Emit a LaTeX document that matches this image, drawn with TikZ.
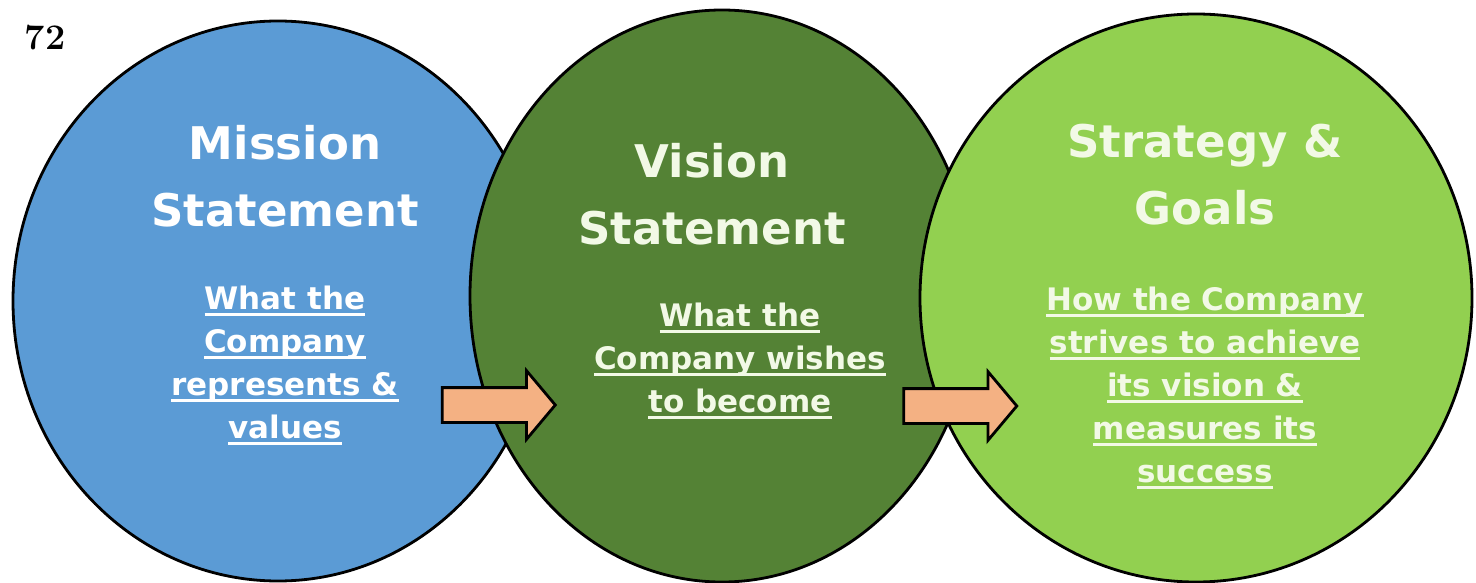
\documentclass[tikz,border=0pt]{standalone}
\usepackage{fontspec}
\newfontfamily\verd{DejaVu Sans}
\usetikzlibrary{shapes.geometric,shapes.arrows}

\definecolor{missionblue}{HTML}{5B9BD5}
\definecolor{visiongreen}{HTML}{548235}
\definecolor{goalgreen}{HTML}{92D050}
\definecolor{arrowpeach}{HTML}{F4B183}
\definecolor{paletext}{HTML}{F2F9E6}

% underline at a fixed distance under the baseline
\newcommand{\undl}[1]{\setbox0\hbox{#1}\leavevmode\rlap{\rule[-7pt]{\wd0}{2.6pt}}\box0}

\tikzset{
  bubble/.style={ellipse, draw=black, line width=2.8pt, inner sep=0pt},
  headtext/.style={text=white, align=center, anchor=base,
    font=\verd\bfseries\fontsize{45}{67}\selectfont},
  bodytext/.style={text=white, align=center, anchor=base,
    font=\verd\bfseries\fontsize{31}{43}\selectfont},
  blockarrow/.style={single arrow, draw=black, line width=2.8pt, fill=arrowpeach,
    inner xsep=0pt, inner ysep=16pt, minimum height=113pt,
    single arrow head extend=17pt, single arrow tip angle=100}
}

\begin{document}
\begin{tikzpicture}[x=1pt,y=-1pt]
\useasboundingbox (0,0) rectangle (1476,583);

% page number
\node[font=\bfseries\fontsize{36}{40}\selectfont, anchor=base] (pageno) at (45,50) {72};

% the three circles
\node[bubble, fill=missionblue, minimum width=530pt, minimum height=560pt] (mission) at (278,301) {};
\node[bubble, fill=visiongreen, minimum width=504pt, minimum height=572pt] (vision) at (722,296) {};
\node[bubble, fill=goalgreen, minimum width=552pt, minimum height=568pt] (goals) at (1196,298) {};

% arrows
\node[blockarrow] (arrowA) at (491.5,405) {};
\node[blockarrow] (arrowB) at (953,406) {};

% texts (anchored at the baseline of the last line)
\node[headtext] (missionhead) at (285,226) {Mission\\Statement};
\node[bodytext] (missionbody) at (285,438)
  {\undl{What the}\\\undl{Company}\\\undl{represents \&}\\\undl{values}};

\node[headtext, text=paletext] (visionhead) at (712,244) {Vision\\Statement};
\node[bodytext, text=paletext] (visionbody) at (740,412)
  {\undl{What the}\\\undl{Company wishes}\\\undl{to become}};

\node[headtext, text=paletext] (goalshead) at (1205,224) {Strategy \&\\Goals};
\node[bodytext, text=paletext] (goalsbody) at (1205,482)
  {\undl{How the Company}\\\undl{strives to achieve}\\\undl{its vision \&}\\\undl{measures its}\\\undl{success}};
\end{tikzpicture}
\end{document}
